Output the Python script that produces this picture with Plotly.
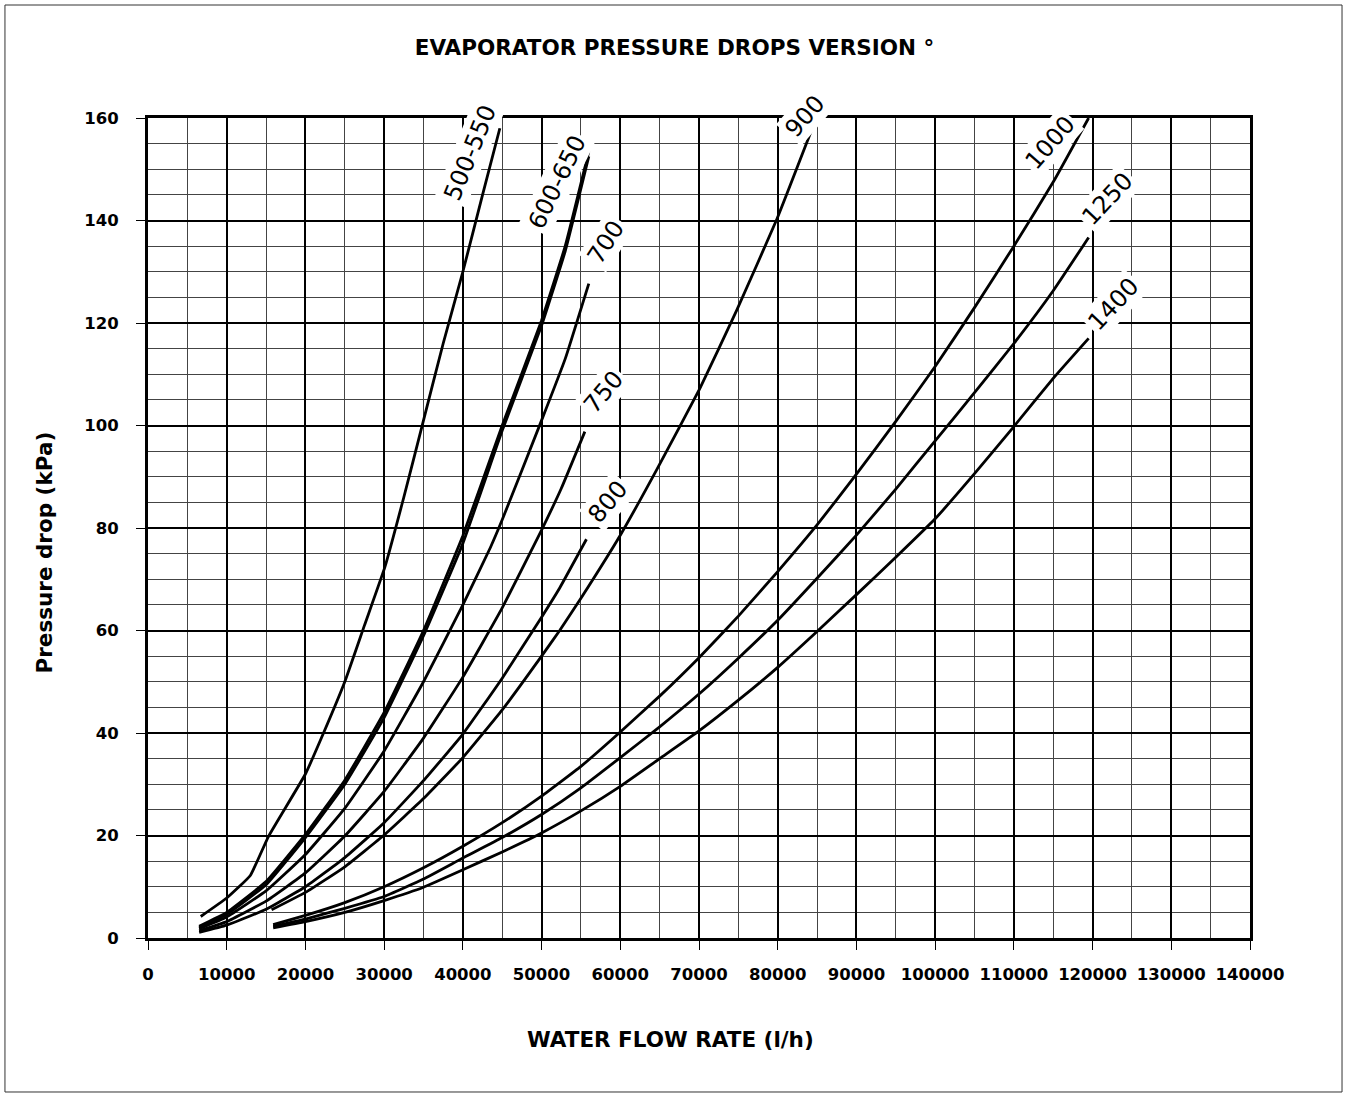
import plotly.graph_objects as go

# ---- data ----
flow_500_550 = [6700, 10000, 13000, 15300, 20000, 22300, 25000, 27500, 30100, 32500, 35000, 37500, 40000, 42500, 44700]
dp_500_550 = [4.2, 7.8, 12.2, 19.8, 32, 40, 50, 61, 72.4, 86, 101, 116, 130, 145, 158]

flow_600_650 = [6500, 10000, 15000, 20000, 25000, 30000, 35000, 40000, 45000, 50000, 53000, 56000]
dp_600 = [2.3, 5.0, 11.0, 20.2, 30.8, 44.0, 60.0, 78.5, 100, 120.5, 135, 153.5]
dp_650 = [2.0, 4.6, 10.4, 19.6, 30.0, 43.0, 59.0, 77.0, 99, 119.5, 134, 152.5]

flow_700 = [6500, 10000, 15000, 20000, 25000, 30000, 35000, 40000, 43500, 45000, 50000, 53000, 56000]
dp_700 = [1.8, 4.1, 9.2, 16.3, 25.3, 36.5, 50, 65, 76.2, 81.6, 101, 113, 127.7]

flow_750 = [6500, 10000, 15000, 20000, 25000, 30000, 35000, 40000, 45000, 50000, 52500, 55500]
dp_750 = [1.4, 3.2, 7.2, 12.7, 19.9, 28.6, 39, 50.9, 64.4, 79.6, 87.7, 98.8]

flow_800 = [6500, 10000, 15000, 20000, 25000, 30000, 35000, 40000, 45000, 50000, 52300, 55700]
dp_800 = [1.1, 2.5, 5.6, 10.0, 15.7, 22.5, 30.7, 39.8, 50.7, 62.6, 68.3, 77.8]

flow_900 = [15700, 20000, 25000, 30000, 35000, 40000, 45000, 50000, 52300, 55000, 60000, 64600, 70100, 74800, 79900, 84900]
dp_900 = [5.5, 8.9, 13.9, 20.1, 27.2, 35.2, 44.5, 55, 60, 66.3, 78.6, 91.3, 107.2, 122.5, 140.3, 160]

flow_big = [15900, 20000, 25000, 30000, 35000, 40000, 45000, 50000, 55000, 60000, 65000, 70000,
            75000, 80000, 85000, 90000, 95000, 100000, 105000, 110000, 115000, 119500]
dp_1000 = [2.6, 4.4, 6.9, 10.0, 13.7, 17.9, 22.5, 27.7, 33.5, 40.2, 47.2, 54.7,
           62.8, 71.5, 80.6, 90.5, 100.8, 111.5, 123, 135, 147.5, 160]
dp_1250 = [2.3, 3.7, 5.8, 8.1, 11.5, 15.6, 19.6, 24.1, 29.3, 35.2, 41.2, 47.6,
           54.6, 62, 70.2, 78.6, 87.6, 97, 106.4, 116, 126.3, 136.7]
dp_1400 = [2.0, 3.2, 5.0, 7.3, 9.9, 13.3, 16.8, 20.5, 24.8, 29.6, 35, 40.4,
           46.4, 52.8, 59.8, 67, 74.3, 81.8, 90.6, 99.8, 109.2, 117]

curves = [
    ("500-550", flow_500_550, dp_500_550),
    ("600", flow_600_650, dp_600),
    ("650", flow_600_650, dp_650),
    ("700", flow_700, dp_700),
    ("750", flow_750, dp_750),
    ("800", flow_800, dp_800),
    ("900", flow_900, dp_900),
    ("1000", flow_big, dp_1000),
    ("1250", flow_big, dp_1250),
    ("1400", flow_big, dp_1400),
]

# curve labels: text, x (flow), y (kPa), angle
label_text = ["500-550", "600-650", "700", "750", "800", "900", "1000", "1250", "1400"]
label_x = [40900, 52000, 58200, 57900, 58400, 83500, 114600, 121900, 122700]
label_y = [153.2, 147.5, 135.8, 106.5, 85.1, 160.4, 155.1, 144.2, 123.7]
label_angle = [-68, -64, -57, -50, -50, -49, -49, -47, -47]

x_ticks = list(range(0, 140001, 10000))
y_ticks = list(range(0, 161, 20))
Y_MAX = 160

FONT = "DejaVu Sans, Verdana, sans-serif"

fig = go.Figure()
for name, xs, ys in curves:
    fig.add_trace(go.Scatter(x=xs, y=ys, mode="lines", name=name,
                             line=dict(color="black", width=2.8, shape="spline", smoothing=0.35),
                             showlegend=False, hoverinfo="skip"))

for t, x, y, a in zip(label_text, label_x, label_y, label_angle):
    fig.add_annotation(x=x, y=y / Y_MAX, xref="x", yref="paper", text=t, showarrow=False,
                       xanchor="center", yanchor="middle",
                       textangle=a, bgcolor="white", borderpad=2,
                       font=dict(family=FONT, size=24, color="black"))

fig.add_annotation(xref="paper", yref="paper", x=0.4737, y=-0.124, text="<b>WATER FLOW RATE (l/h)</b>",
                   xanchor="center", yanchor="middle",
                   showarrow=False, font=dict(family=FONT, size=21.5, color="black"))
fig.add_annotation(xref="paper", yref="paper", x=-0.0935, y=0.47, text="<b>Pressure drop (kPa)</b>",
                   xanchor="center", yanchor="middle",
                   showarrow=False, textangle=-90, font=dict(family=FONT, size=21.5, color="black"))

# outer frame
fig.add_shape(type="rect", xref="paper", yref="paper", x0=-0.1298, x1=1.0835, y0=-0.1878, y1=1.1378,
              line=dict(color="#333333", width=1), layer="below")

fig.update_layout(
    width=1349, height=1098,
    margin=dict(l=148, r=99, t=118, b=160),
    paper_bgcolor="white", plot_bgcolor="white",
    title=dict(text="<b>EVAPORATOR PRESSURE DROPS VERSION °</b>", x=0.5, xref="container",
               y=1 - 47 / 1098, yref="container", yanchor="middle", xanchor="center",
               font=dict(family=FONT, size=21.5, color="black")),
    xaxis=dict(range=[0, 140000], tickvals=x_ticks, ticktext=[str(v) for v in x_ticks],
               showgrid=True, gridcolor="black", gridwidth=2,
               minor=dict(dtick=5000, showgrid=True, gridcolor="#444444", gridwidth=1.2),
               showline=True, linecolor="black", linewidth=3, mirror=True,
               ticks="outside", ticklen=9, tickwidth=1, tickcolor="black",
               ticklabelstandoff=10,
               tickfont=dict(family=FONT, size=16.5, color="black", weight="bold"),
               zeroline=False, fixedrange=True),
    yaxis=dict(range=[0, 160], tickvals=y_ticks, ticktext=[str(v) for v in y_ticks],
               showgrid=True, gridcolor="black", gridwidth=2,
               minor=dict(dtick=5, showgrid=True, gridcolor="#444444", gridwidth=1.2),
               showline=True, linecolor="black", linewidth=3, mirror=True,
               ticks="outside", ticklen=9, tickwidth=1, tickcolor="black",
               ticklabelstandoff=14,
               tickfont=dict(family=FONT, size=16.5, color="black", weight="bold"),
               zeroline=False, fixedrange=True),
)

fig.write_html("out.html", config={"displayModeBar": False},
               post_script="document.body.style.margin='0px';")
